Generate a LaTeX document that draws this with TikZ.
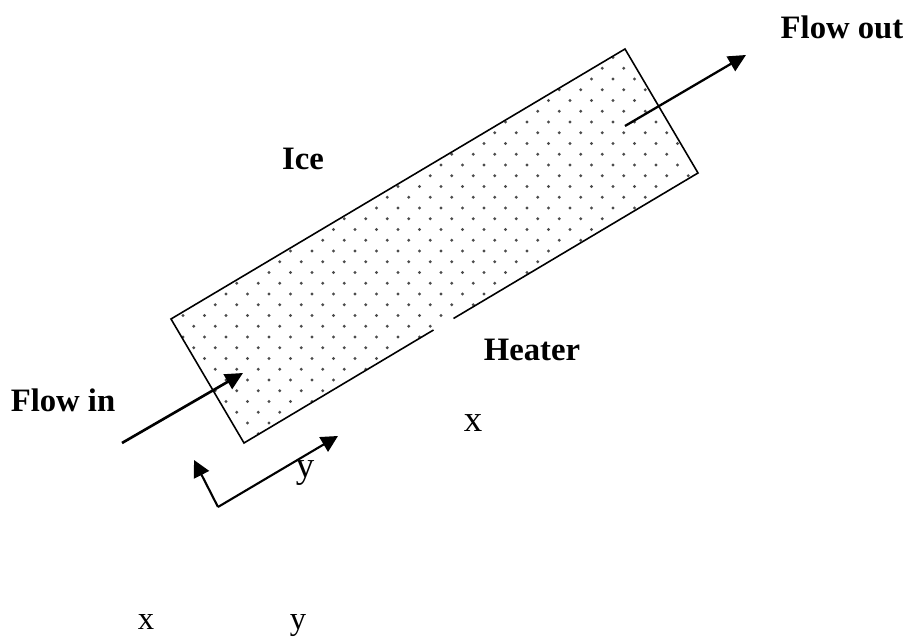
\documentclass[tikz,border=0pt]{standalone}
\usepackage{fontspec}
\setmainfont{Liberation Serif}
\usetikzlibrary{arrows.meta}
\tikzset{
  lab/.style={font=\fontsize{18.6}{20}\selectfont\bfseries,inner sep=0pt,anchor=base},
  plainlab/.style={font=\fontsize{18.6}{20}\selectfont,inner sep=0pt,anchor=base},
  biglab/.style={font=\fontsize{21}{23}\selectfont,inner sep=0pt,anchor=base},
  flow/.style={line width=1.3pt,-{Triangle[length=10pt,width=9.5pt]}},
  axis/.style={line width=1.2pt,-{Triangle[length=9.5pt,width=9.5pt]}},
}

\begin{document}
\begin{tikzpicture}[x=1cm,y=1cm]
  \useasboundingbox (0,0) rectangle (18.18,12.74);
  \coordinate (inA) at (3.42,6.36);
  \coordinate (inB) at (4.88,3.88);
  \coordinate (outB) at (13.96,9.28);
  \coordinate (outA) at (12.5,11.76);
  \coordinate (gapL) at (8.67,6.14);
  \coordinate (gapR) at (9.07,6.37);
  % dots of the channel
  \begin{scope}
    \clip (inA) -- (inB) -- (outB) -- (outA) -- cycle;
    \foreach \i in {-11,...,33}{
      \foreach \j in {-19,...,29}{
        \fill[black!70] ({4.734+0.215*(\i+\j)},{7.074+0.215*(\i-\j)}) circle (0.032);
      }
    }
  \end{scope}
  \draw[line width=0.9pt,line join=miter] (gapR) -- (outB) -- (outA) -- (inA) -- (inB) -- (gapL);
  % flows
  \coordinate (inS) at (2.44,3.88);
  \coordinate (inE) at (4.86,5.28);
  \coordinate (outS) at (12.5,10.22);
  \coordinate (outE) at (14.92,11.64);
  \draw[flow,line width=1.5pt] (inS) -- (inE);
  \draw[flow] (outS) -- (outE);
  % axes
  \coordinate (orig) at (4.36,2.60);
  \coordinate (axY) at (6.76,4.02);
  \coordinate (axX) at (3.88,3.54);
  \draw[axis] (orig) -- (axY);
  \draw[axis] (orig) -- (axX);
  % labels
  \node[lab] (ice) at (6.06,9.34) {Ice};
  \node[lab] (flowout) at (16.84,11.96) {Flow out};
  \node[lab] (flowin) at (1.26,4.50) {Flow in};
  \node[lab] (heater) at (10.64,5.52) {Heater};
  \node[biglab] (xone) at (9.46,4.10) {x};
  \node[biglab] (yone) at (6.10,3.18) {y};
  \node[plainlab] (xtwo) at (2.92,0.14) {x};
  \node[plainlab] (ytwo) at (5.96,0.14) {y};
\end{tikzpicture}
\end{document}
